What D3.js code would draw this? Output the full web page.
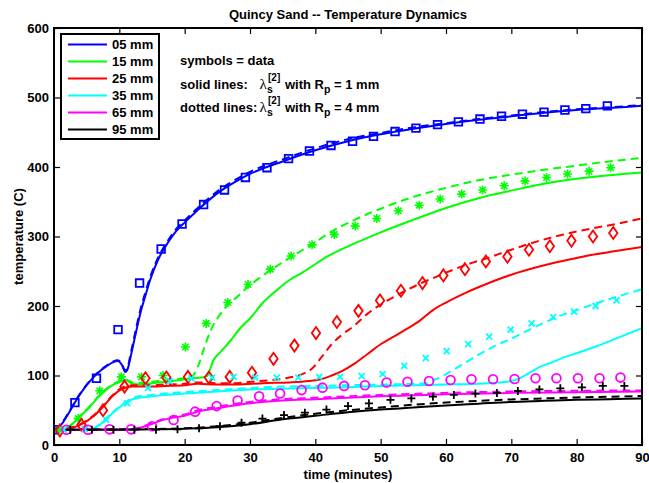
<!DOCTYPE html>
<html>
<head>
<meta charset="utf-8">
<script src="https://cdn.jsdelivr.net/npm/d3@7"></script>
<style>
  body { margin: 0; background: #fff; }
  svg text { font-family: "Liberation Sans", Arial, Helvetica, sans-serif; font-weight: bold; }
</style>
</head>
<body>
<svg id="chart" width="649" height="483"></svg>
<script>
// ---- measured thermocouple data (time in minutes, temperature in C) ----
const t05 = [0,3.2,6.5,9.8,13.1,16.4,19.6,22.9,26.1,29.3,32.6,35.9,39.1,42.4,45.7,48.9,52.2,55.4,58.7,61.9,65.2,68.5,71.7,75.0,78.2,81.4,84.7];
const v05 = [22,61,96,166,233,282,318,346,367,385,399,412,423,431,437,444,451,456,461,465,469,473,476,479,482,484,488];
const t15 = [0.9,3.7,7.0,10.3,13.4,16.7,20.1,23.3,26.6,29.7,33.1,36.3,39.5,42.9,46.1,49.4,52.7,55.9,59.1,62.4,65.6,68.9,72.1,75.4,78.6,81.9,85.2];
const v15 = [22,38,78,98,98,100,141,175,205,231,253,272,288,303,315,326,337,345,354,361,367,373,380,385,390,394,399];
const t25 = [0.9,4.2,7.5,10.8,14.0,17.2,20.5,23.7,26.9,30.3,33.6,36.8,40.1,43.3,46.6,49.9,53.1,56.4,59.6,62.9,66.1,69.4,72.7,75.9,79.2,82.5,85.6];
const v25 = [21,29,50,84,96,97,98,97,98,104,124,143,161,177,193,208,222,233,244,253,264,271,281,286,294,300,305];
const t35 = [1.5,4.7,8.0,11.2,14.4,17.7,21.0,24.2,27.5,30.8,34.1,37.4,40.6,43.8,47.1,50.3,53.6,56.9,60.1,63.4,66.6,69.9,73.1,76.4,79.6,82.9,86.1];
const v35 = [22,23,36,60,82,92,96,97,98,97,97,97,98,98,99,102,114,125,135,145,156,166,175,184,192,200,208];
const t65 = [1.9,5.2,8.5,11.8,15.0,18.3,21.6,24.9,28.1,31.4,34.6,37.9,41.1,44.4,47.6,50.9,54.1,57.4,60.7,63.9,67.2,70.5,73.7,76.9,80.2,83.5,86.7];
const v65 = [22,22,22.5,22.5,27,36,48,56,64,70,74,79,82.5,85,86,90,91,92,93.5,94.5,94.5,95,96,96,96,96,97];
const t95 = [2.5,5.8,9.1,12.3,15.6,18.9,22.2,25.4,28.7,31.9,35.2,38.4,41.7,45.0,48.2,51.5,54.7,58.0,61.2,64.5,67.8,71.0,74.3,77.5,80.8,84.0,87.3];
const v95 = [22,22,22,22,22,22.5,24,27,32,38,43,46.5,51,56,60,65,67,69.5,72,74,75,77.7,80,81.6,83,85,85];

// ---- model curves: [time, temperature], Rp = 1 mm (solid) and Rp = 4 mm (dashed) ----
const m05a = [[0,22],[1,28],[2,42],[3,58],[4,73],[5,86],[6,97],[7,106],[8,113],[9,119],[9.8,121],[10.4,115],[10.9,105],[11.3,110],[11.8,130],[12.5,160],[13.2,189],[14,215],[14.7,237],[16,268],[17.5,292],[19,311],[20,320],[22,338],[25,362],[28,380],[30,390],[35,408],[40,424],[45,437],[50,447],[55,455],[60,462],[65,468],[70,473],[75,478],[80,482],[85,485],[90,488]];
const m05b = [[0,22],[1,29],[2,43],[3,59],[4,74],[5,87],[6,98],[7,107],[8,114],[9,120],[9.8,122],[10.4,116],[10.9,107],[11.3,113],[11.8,134],[12.5,165],[13.2,194],[14,220],[14.7,241],[16,271],[17.5,295],[19,314],[20,323],[22,341],[25,365],[28,383],[30,393],[35,411],[40,427],[45,440],[50,449],[55,457],[60,463],[65,469],[70,474],[75,479],[80,483],[85,486],[90,489]];
const m15a = [[0,22],[1.4,22],[2.5,28],[4,41],[5.5,55],[7,71],[8.6,84],[10.1,91],[11,93],[12,88],[13,87],[15,89],[17,91],[19,93],[21,96],[22.5,97],[23.4,99],[24.4,122],[25.5,134],[27,150],[28.5,168],[30,182],[32,205],[34,222],[36,237],[38,248],[42,272],[46,290],[50,306],[55,324],[60,341],[65,355],[70,366],[75,376],[80,383],[85,388],[90,392]];
const m15b = [[0,22],[1.4,22],[2.5,28],[4,42],[5.5,56],[7,72],[8.6,85],[10.1,92],[11,94],[12,90],[13,89],[15,91],[17,93],[19,95],[21,98],[22,112],[23,140],[24,165],[25,182],[26,195],[28,213],[30,230],[32,244],[35,263],[40,292],[42.3,306],[46,324],[50,340],[55,357],[60,370],[65,381],[70,389],[75,396],[80,402],[85,408],[90,413]];
const m25a = [[0,22],[1,22],[2.5,24],[4,29],[6,41],[7.5,55],[9,71],[10.5,81],[12,84],[15,84],[17,85],[20,86],[22,88],[25,87],[28,87],[32,89],[36,90],[39,92],[41,95],[42.5,100],[44,106],[46,117],[48,131],[50,145],[52,156],[54,167],[56,179],[58,194],[60,205],[63,219],[66,231],[70,245],[74,256],[78,265],[82,273],[86,279],[90,285]];
const m25b = [[0,22],[1,22],[2.5,25],[4,30],[6,42],[7.5,56],[9,72],[10.5,83],[12,86],[15,86],[17,87],[20,88],[22,90],[25,89],[28,89],[30,91],[33,93],[36,97],[38,102],[39.5,110],[41,127],[42.5,145],[44,158],[46,172],[48,189],[50,202],[53,218],[56,232],[58,240],[60,248],[63,259],[66,268],[70,281],[74,293],[78,303],[82,311],[86,318],[90,326]];
const m35a = [[0,22],[5.5,22],[7,29],[8.5,42],[10,54],[11.5,64],[13,68],[15,70],[17,72],[20,74],[25,77],[30,80],[35,81],[40,82],[45,83],[50,85],[55,86],[60,87],[65,88],[68,90],[70,92],[71.5,97],[73,105],[74.5,113],[76,118],[78,126],[80,132],[83,142],[86,153],[90,168]];
const m35b = [[0,22],[5.5,22],[7,30],[8.5,43],[10,55],[11.5,65],[13,70],[15,72],[17,74],[20,76],[25,79],[30,82],[35,84],[40,85],[45,86],[50,87],[55,88],[57,89],[58.5,95],[60,102],[62,113],[65,130],[68,145],[70,153],[73,167],[76,180],[78,188],[80,194],[83,204],[86,213],[90,224]];
const m65a = [[0,22],[12,22.5],[14,27],[16,34],[18,39],[20,42],[22,48],[25,53],[30,60],[35,64],[40,66],[45,68],[50,70],[55,71.5],[60,73],[70,75],[80,76],[90,77]];
const m65b = [[0,22],[12,23],[14,28],[16,35],[18,40],[20,44],[22,50],[25,55],[30,62],[35,66],[40,68],[45,70],[50,72],[55,73.5],[60,75],[70,77],[80,78],[90,78.5]];
const m95a = [[0,22],[10,22],[15,22.5],[20,23.5],[25,25.5],[30,30],[35,37],[40,42],[45,47],[50,51],[55,54],[60,57],[65,59.5],[70,62],[75,63.5],[80,65],[85,66],[90,67]];
const m95b = [[0,22],[15,23],[20,24],[25,27],[30,32],[35,39],[40,45],[45,50],[50,54],[55,58],[60,61],[65,63.5],[70,65.5],[75,67],[80,68.5],[85,69.5],[90,70.5]];

const depthLabels = ["05 mm", "15 mm", "25 mm", "35 mm", "65 mm", "95 mm"];
const xTicks = [0,10,20,30,40,50,60,70,80,90];
const yTicks = [0,100,200,300,400,500,600];

// ---- series table built from the arrays above ----
const series = [
  { label: depthLabels[0], color: "#0000ff", marker: "square",   t: t05, v: v05, solid: m05a, dashed: m05b },
  { label: depthLabels[1], color: "#00ff00", marker: "asterisk", t: t15, v: v15, solid: m15a, dashed: m15b },
  { label: depthLabels[2], color: "#ff0000", marker: "diamond",  t: t25, v: v25, solid: m25a, dashed: m25b },
  { label: depthLabels[3], color: "#00ffff", marker: "x",        t: t35, v: v35, solid: m35a, dashed: m35b },
  { label: depthLabels[4], color: "#ff00ff", marker: "circle",   t: t65, v: v65, solid: m65a, dashed: m65b },
  { label: depthLabels[5], color: "#000000", marker: "plus",     t: t95, v: v95, solid: m95a, dashed: m95b }
];

const W = 649, H = 483;
const M = { left: 54, right: 7, top: 28, bottom: 38 };
const svg = d3.select("#chart");

const x = d3.scaleLinear().domain([0, 90]).range([M.left, W - M.right]);
const y = d3.scaleLinear().domain([0, 600]).range([H - M.bottom, M.top]);

svg.append("defs").append("clipPath").attr("id", "plotClip")
  .append("rect")
  .attr("x", x(0)).attr("y", y(600))
  .attr("width", x(90) - x(0)).attr("height", y(0) - y(600));

// title
svg.append("text")
  .attr("x", (x(0) + x(90)) / 2).attr("y", 18.5)
  .attr("text-anchor", "middle").attr("font-size", 13)
  .text("Quincy Sand -- Temperature Dynamics");

// axis labels
svg.append("text")
  .attr("x", (x(0) + x(90)) / 2).attr("y", 479)
  .attr("text-anchor", "middle").attr("font-size", 13)
  .text("time (minutes)");
svg.append("text")
  .attr("transform", `translate(18,${(y(0) + y(600)) / 2}) rotate(-90)`)
  .attr("text-anchor", "middle").attr("dominant-baseline", "central").attr("font-size", 13)
  .text("temperature (C)");

// curves
const plot = svg.append("g").attr("clip-path", "url(#plotClip)");
const line = d3.line().x(d => x(d[0])).y(d => y(d[1])).curve(d3.curveMonotoneX);

series.forEach(s => {
  plot.append("path").datum(s.solid)
    .attr("d", line).attr("fill", "none")
    .attr("stroke", s.color).attr("stroke-width", 2).attr("stroke-linejoin", "round");
});
series.forEach(s => {
  plot.append("path").datum(s.dashed)
    .attr("d", line).attr("fill", "none")
    .attr("stroke", s.color).attr("stroke-width", 2)
    .attr("stroke-dasharray", "8,5");
});

// data markers
function markerPath(kind) {
  switch (kind) {
    case "square":   return "M-3.8,-3.8H3.8V3.8H-3.8Z";
    case "diamond":  return "M0,-6L4.2,0L0,6L-4.2,0Z";
    case "x":        return "M-3,-3L3,3M-3,3L3,-3";
    case "plus":     return "M-4,0H4M0,-4V4";
    case "asterisk": return "M-4.5,0H4.5M0,-4.5V4.5M-3.2,-3.2L3.2,3.2M-3.2,3.2L3.2,-3.2";
    case "circle":   return d3.arc()({ innerRadius: 0, outerRadius: 4.4, startAngle: 0, endAngle: 2 * Math.PI });
  }
}
series.forEach(s => {
  const pts = s.t.map((tt, i) => [tt, s.v[i]]);
  plot.append("g").selectAll("path").data(pts).join("path")
    .attr("transform", d => `translate(${x(d[0])},${y(d[1])})`)
    .attr("d", markerPath(s.marker))
    .attr("fill", "none").attr("stroke", s.color)
    .attr("stroke-width", s.marker === "asterisk" ? 1.6 : 1.8);
});

// axes: ticks pointing inward on all four sides
const tick = 6;
const gx = svg.append("g").attr("transform", `translate(0,${y(0)})`)
  .call(d3.axisBottom(x).tickValues(xTicks).tickSizeInner(-tick).tickSizeOuter(0).tickPadding(8));
const gxt = svg.append("g").attr("transform", `translate(0,${y(600)})`)
  .call(d3.axisTop(x).tickValues(xTicks).tickSizeInner(-tick).tickSizeOuter(0).tickFormat(""));
const gy = svg.append("g").attr("transform", `translate(${x(0)},0)`)
  .call(d3.axisLeft(y).tickValues(yTicks).tickSizeInner(-tick).tickSizeOuter(0).tickPadding(5));
const gyr = svg.append("g").attr("transform", `translate(${x(90)},0)`)
  .call(d3.axisRight(y).tickValues(yTicks).tickSizeInner(-tick).tickSizeOuter(0).tickFormat(""));
[gx, gxt, gy, gyr].forEach(g => {
  g.select(".domain").remove();
  g.selectAll(".tick line").attr("stroke", "#000").attr("stroke-width", 1.2);
  g.selectAll(".tick text").attr("font-size", 13).attr("fill", "#000")
    .style("font-family", "'Liberation Sans', Arial, sans-serif").style("font-weight", "bold");
});

svg.append("rect")
  .attr("x", x(0)).attr("y", y(600))
  .attr("width", x(90) - x(0)).attr("height", y(0) - y(600))
  .attr("fill", "none").attr("stroke", "#000").attr("stroke-width", 2);

// legend
const lg = svg.append("g");
lg.append("rect").attr("x", 61).attr("y", 34).attr("width", 98).attr("height", 105)
  .attr("fill", "#fff").attr("stroke", "#000").attr("stroke-width", 2);
series.forEach((s, i) => {
  const yy = 44.5 + i * 17;
  lg.append("line").attr("x1", 68).attr("x2", 107).attr("y1", yy).attr("y2", yy)
    .attr("stroke", s.color).attr("stroke-width", 2);
  lg.append("text").attr("x", 112).attr("y", yy).attr("dy", "0.36em")
    .attr("font-size", 13).text(s.label);
});

// annotation
const note = svg.append("g").attr("font-size", 13);
note.append("text").attr("x", 180).attr("y", 65).text("symbols = data");
function lambdaRow(prefix, rp, base) {
  note.append("text").attr("x", 180).attr("y", base).text(prefix);
  note.append("text").attr("x", 259.5).attr("y", base)
    .style("font-family", "'Liberation Serif', 'Times New Roman', serif").style("font-weight", "normal")
    .attr("font-size", 15).text("λ");
  note.append("text").attr("x", 268).attr("y", base - 8).attr("font-size", 10).text("[2]");
  note.append("text").attr("x", 267).attr("y", base + 4).attr("font-size", 10.5).text("s");
  const t = note.append("text").attr("x", 285).attr("y", base);
  t.append("tspan").text("with R");
  t.append("tspan").attr("dy", 4).attr("font-size", 10.5).text("p");
  t.append("tspan").attr("dy", -4).text(` = ${rp} mm`);
}
lambdaRow("solid lines:", 1, 89);
lambdaRow("dotted lines:", 4, 112);
</script>
</body>
</html>
